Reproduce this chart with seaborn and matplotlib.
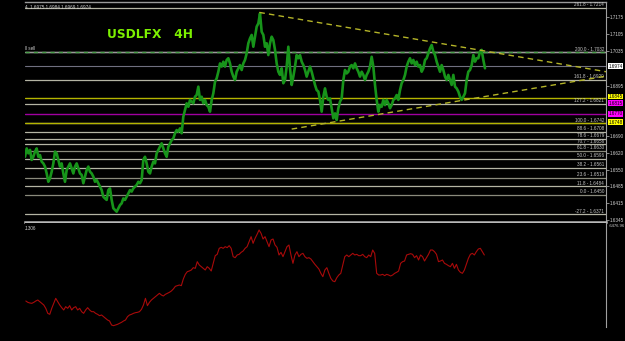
import numpy as np
import pandas as pd
import matplotlib
matplotlib.use("Agg")
import matplotlib.pyplot as plt
import matplotlib.transforms as mtransforms
import seaborn as sns

# ---------------- data ----------------
price_close = [
    1.6605, 1.6639, 1.6619, 1.6633, 1.6592, 1.6605, 1.6626, 1.6639, 1.6605, 1.6612,
    1.6585, 1.6578, 1.6565, 1.6537, 1.6503, 1.6517, 1.6544, 1.6578, 1.6626, 1.6619,
    1.6592, 1.6565, 1.6578, 1.6537, 1.6503, 1.6551, 1.6565, 1.6578, 1.6558, 1.6537,
    1.6565, 1.6578, 1.6558, 1.6537, 1.6531, 1.6497, 1.6524, 1.6551, 1.6565, 1.6544,
    1.6537, 1.6524, 1.6503, 1.6510, 1.6497, 1.6483, 1.6469, 1.6442, 1.6435, 1.6429,
    1.6469, 1.6476, 1.6429, 1.6395, 1.6388, 1.6381, 1.6395, 1.6408, 1.6415, 1.6435,
    1.6429, 1.6442, 1.6456, 1.6469, 1.6463, 1.6476, 1.6483, 1.6490, 1.6503, 1.6497,
    1.6510, 1.6592, 1.6605, 1.6578, 1.6544, 1.6537, 1.6565, 1.6585, 1.6578, 1.6619,
    1.6633, 1.6646, 1.6660, 1.6639, 1.6619, 1.6605, 1.6646, 1.6660, 1.6673, 1.6680,
    1.6701, 1.6714, 1.6707, 1.6721, 1.6701, 1.6769, 1.6796, 1.6823, 1.6809, 1.6837,
    1.6830, 1.6823, 1.6850, 1.6857, 1.6891, 1.6837, 1.6850, 1.6823, 1.6837, 1.6816,
    1.6809, 1.6789, 1.6837, 1.6864, 1.6911, 1.6925, 1.6952, 1.6986, 1.6973, 1.6993,
    1.6973, 1.7000, 1.7007, 1.6986, 1.6952, 1.6932, 1.6918, 1.6952, 1.6966, 1.6979,
    1.6959, 1.6986, 1.7000, 1.7027, 1.7068, 1.7088, 1.7102, 1.7054, 1.7095, 1.7136,
    1.7149, 1.7190, 1.7115, 1.7102, 1.7054, 1.7068, 1.7020, 1.7068, 1.7095, 1.7081,
    1.7041, 1.6986, 1.6952, 1.6939, 1.6966, 1.6905, 1.6918, 1.6973, 1.7054, 1.6966,
    1.6898, 1.6932, 1.6973, 1.7020, 1.7007, 1.7020, 1.6993, 1.6979, 1.6959, 1.6932,
    1.6952, 1.6973, 1.6952, 1.6925, 1.6898, 1.6877, 1.6871, 1.6837, 1.6789, 1.6850,
    1.6884, 1.6850, 1.6837, 1.6843, 1.6803, 1.6762, 1.6782, 1.6755, 1.6803, 1.6830,
    1.6843, 1.6918, 1.6959, 1.6945, 1.6952, 1.6973, 1.6979, 1.6966, 1.6986, 1.6966,
    1.6952, 1.6932, 1.6952, 1.6939, 1.6918, 1.6939, 1.6952, 1.6973, 1.7013, 1.6973,
    1.6898, 1.6837, 1.6789, 1.6816, 1.6809, 1.6837, 1.6816, 1.6837, 1.6823, 1.6803,
    1.6816, 1.6837, 1.6843, 1.6857, 1.6837, 1.6877, 1.6905, 1.6918, 1.6939, 1.6973,
    1.6993, 1.7007, 1.6986, 1.7000, 1.6979, 1.6993, 1.6973, 1.6979, 1.6952, 1.6966,
    1.7000, 1.7007, 1.7027, 1.7047, 1.7061, 1.7034, 1.7020, 1.6993, 1.6973, 1.6952,
    1.6979, 1.6959, 1.6932, 1.6918, 1.6939, 1.6918, 1.6898, 1.6939, 1.6891, 1.6884,
    1.6871, 1.6850, 1.6837, 1.6850, 1.6864, 1.6918, 1.6952, 1.6959, 1.6979, 1.7020,
    1.6993, 1.7007, 1.7007, 1.7034, 1.7041, 1.7000, 1.6966,
]

indicator = [
    -15837, -15997, -16077, -16117, -15997, -15837, -15717, -15917, -16117, -16317,
    -16717, -17317, -17437, -16717, -16117, -15517, -15917, -16317, -16637, -16917,
    -16517, -16717, -16397, -16917, -16637, -16517, -16917, -16717, -17117, -17317,
    -16917, -16637, -16917, -17117, -17117, -17317, -17437, -17597, -17517, -17717,
    -17917, -18117, -18237, -18717, -18797, -18717, -18637, -18517, -18397, -18237,
    -18117, -17717, -17517, -17437, -17317, -17237, -17197, -17117, -16837, -16317,
    -15517, -16397, -15997, -15717, -15517, -15317, -15117, -14917, -15117, -15237,
    -15037, -14917, -14797, -14637, -14397, -14077, -13997, -13917, -13997, -13197,
    -12637, -12317, -12237, -12117, -11837, -11917, -11117, -11517, -11717, -11917,
    -12117, -11717, -11917, -12237, -11317, -10397, -10237, -9517, -9397, -9517,
    -9317, -9437, -9197, -9517, -10517, -10637, -10317, -10237, -9997, -9837,
    -9517, -9317, -8717, -8117, -8917, -8317, -7837, -7317, -7717, -8397,
    -8117, -8717, -9317, -8517, -8397, -9117, -9397, -10317, -9997, -10517,
    -9917, -9317, -9117, -10317, -11317, -10317, -9917, -10517, -10237, -10117,
    -10517, -10717, -10637, -10797, -11117, -11437, -11717, -11997, -12517, -12917,
    -12117, -11837, -12517, -13117, -13437, -13517, -13037, -12717, -12517, -11517,
    -10517, -10317, -10517, -10317, -10117, -10317, -10237, -10397, -10397, -10237,
    -10517, -10637, -10317, -10517, -9717, -10117, -12517, -12717, -12717, -12637,
    -12797, -12637, -12717, -12837, -12717, -12517, -12397, -12237, -11317, -11117,
    -11037, -10317, -10237, -10157, -10237, -10637, -10397, -10917, -10317, -10517,
    -11037, -10637, -10237, -9717, -9717, -9917, -10237, -11117, -11037, -10917,
    -11317, -11437, -11597, -11717, -11317, -11917, -11437, -12117, -12397, -12517,
    -12117, -11437, -10717, -10237, -10117, -10317, -9917, -9597, -9517, -9917,
    -10317,
]

fib_pct = [261.8, 200.0, 161.8, 127.2, 100.0, 88.6, 78.6, 70.7, 61.8, 50.0, 38.2, 23.6, 11.8, 0.0, -27.2]
fib_price = [1.7214, 1.7032, 1.6920, 1.6821, 1.6742, 1.6708, 1.6679, 1.6656, 1.6630, 1.6596,
             1.6561, 1.6519, 1.6484, 1.6450, 1.6371]

axis_ticks = [1.7175, 1.7105, 1.7035, 1.6895, 1.6690, 1.6620,
              1.6550, 1.6485, 1.6415, 1.6345]

last_price = 1.6974
header_ohlc = [1.6975, 1.6984, 1.6969, 1.6974]
sell_price = 1.7032
yellow_levels = [1.6845, 1.6744]
magenta_levels = [1.6778]
box_labels = [("1.6845", 1.6851, "yellow"), ("1.6815", 1.6824, "magenta"),
              ("1.6770", 1.6780, "magenta"), ("1.6748", 1.6746, "yellow")]

trend_upper_bar = [140.6, 348.6]
trend_upper_price = [1.7194, 1.6952]
trend_lower_bar = [160.0, 348.6]
trend_lower_price = [1.6718, 1.6934]

indicator_top = -6476.96

# ---------------- figure ----------------
sns.set_theme(style="dark")
plt.rcParams["font.family"] = ["Liberation Sans", "DejaVu Sans"]
W, H = 625, 341
fig = plt.figure(figsize=(W / 100, H / 100), dpi=100, facecolor="black")


def rect(x0, y0, x1, y1):
    return [x0 / W, 1 - y1 / H, (x1 - x0) / W, (y1 - y0) / H]


ax = fig.add_axes(rect(25, 1.5, 606, 221.5))
ax2 = fig.add_axes(rect(25, 222.5, 606, 327))
for a in (ax, ax2):
    a.set_facecolor("black")
    a.grid(False)
    for s in a.spines.values():
        s.set_visible(False)

XMAX = 348.6
SMALL = 3.3
df = pd.DataFrame({"bar": np.arange(len(price_close)), "price": price_close})
sns.lineplot(data=df, x="bar", y="price", ax=ax, color="#17941a", linewidth=1.9, zorder=5)
ax.set_xlim(0, XMAX)
ax.set_ylim(1.63409, 1.72385)
ax.set_xlabel("")
ax.set_ylabel("")
ax.set_xticks([])

# fib lines (a few levels drawn darker, as in the terminal)
dark_levels = {61.8, 23.6, 0.0}
lab_tr = mtransforms.blended_transform_factory(ax.transAxes, ax.transData)
for p, pr in zip(fib_pct, fib_price):
    col = "#8a8a7c" if p in dark_levels else "#b4b4a4"
    ax.axhline(pr, color=col, lw=0.9, zorder=2)
    ax.text(0.9966, pr + 0.0002, f"{p:.1f} - {pr:.4f}", transform=lab_tr, ha="right", va="bottom",
            fontsize=SMALL, color="#c8c8c8", zorder=6)

# sell line & current price line
ax.axhline(sell_price, color="#9a9a9a", lw=1.0, zorder=3)
ax.axhline(sell_price, color="#4aa04a", lw=1.0, dashes=(3, 3), zorder=3)
ax.text(0.0, sell_price + 0.0004, "ll sell", transform=lab_tr, ha="left", va="bottom",
        fontsize=SMALL, color="#c8c8c8")
ax.axhline(last_price, color="#707080", lw=0.8, zorder=3)
for yl in yellow_levels:
    ax.axhline(yl, color="#b4b400", lw=1.0, zorder=3)
for ml in magenta_levels:
    ax.axhline(ml, color="#a000a0", lw=1.0, zorder=3)

# trend lines
ax.plot(trend_upper_bar, trend_upper_price, color="#b4b428", lw=1.0, dashes=(4, 3), zorder=6)
ax.plot(trend_lower_bar, trend_lower_price, color="#b4b428", lw=1.0, dashes=(4, 3), zorder=6)

# right axis
ax.yaxis.tick_right()
ax.set_yticks(axis_ticks)
ax.set_yticklabels([f"{t:.4f}" for t in axis_ticks])
ax.tick_params(axis="y", colors="#a0a0a0", labelcolor="#d0d0d0", labelsize=SMALL, length=2,
               width=0.6, pad=1.0)
ax.spines["right"].set_visible(True)
ax.spines["right"].set_color("#a0a0a0")
ax.spines["right"].set_linewidth(0.8)
ax.spines["top"].set_visible(True)
ax.spines["top"].set_color("#9a9a9a")
ax.spines["top"].set_linewidth(1.0)
ax.spines["bottom"].set_visible(True)
ax.spines["bottom"].set_color("#b8b8b8")
ax.spines["bottom"].set_linewidth(1.8)

# price boxes on axis
box_tr = mtransforms.blended_transform_factory(ax.transAxes, ax.transData)
ax.text(1.004, last_price, f"{last_price:.4f}", transform=box_tr, ha="left", va="center",
        fontsize=SMALL, color="black", zorder=10,
        bbox=dict(boxstyle="square,pad=0.12", fc="white", ec="none"), clip_on=False)
for txt, pos, col in box_labels:
    fc = "#ffff00" if col == "yellow" else "#ff00ff"
    ax.text(1.004, pos, txt, transform=box_tr, ha="left", va="center", fontsize=SMALL,
            color="black", zorder=10, bbox=dict(boxstyle="square,pad=0.1", fc=fc, ec="none"),
            clip_on=False)

# titles and header
ax.text(0.0, 0.985, "4  " + " ".join(f"{v:.4f}" for v in header_ohlc), transform=ax.transAxes,
        ha="left", va="top", fontsize=SMALL, color="#d0d0d0")
fig.text(107 / W, 1 - 34 / H, "USDLFX   4H", ha="left", va="center", fontsize=8.8,
         fontweight="bold", color="#7cf000", family=["DejaVu Sans"])

# indicator subwindow
dfi = pd.DataFrame({"bar": np.linspace(0.5, 275.6, len(indicator)), "val": indicator})
sns.lineplot(data=dfi, x="bar", y="val", ax=ax2, color="#a80a0a", linewidth=0.8)
ax2.set_xlim(0, XMAX)
ax2.set_ylim(-18957, -6417)
ax2.set_xlabel("")
ax2.set_ylabel("")
ax2.set_xticks([])
ax2.set_yticks([])
ax2.spines["right"].set_visible(True)
ax2.spines["right"].set_color("#a0a0a0")
ax2.spines["right"].set_linewidth(0.8)
ax2.text(0.0, 0.97, ".1306", transform=ax2.transAxes, ha="left", va="top", fontsize=SMALL,
         color="#d0d0d0")
ax2.text(1.004, 0.99, f"{indicator_top:.2f}", transform=ax2.transAxes, ha="left", va="top",
         fontsize=SMALL - 0.3, color="#d0d0d0", clip_on=False)

fig.savefig("out.png", dpi=100, facecolor="black")
